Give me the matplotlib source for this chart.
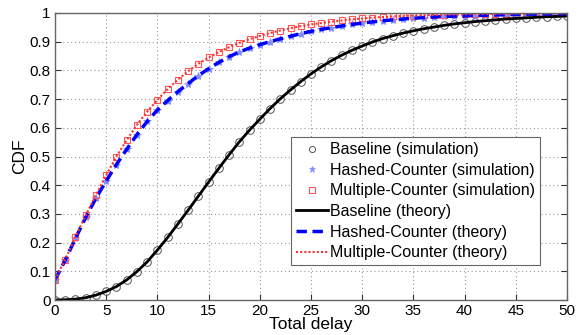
import matplotlib
matplotlib.use("Agg")
import matplotlib.pyplot as plt
import numpy as np

delay = list(range(0, 51))

baseline = [0.0, 0.001, 0.003, 0.008, 0.017, 0.030, 0.047, 0.070, 0.099, 0.133,
            0.174, 0.218, 0.265, 0.313, 0.362, 0.411, 0.459, 0.506, 0.551, 0.592,
            0.630, 0.667, 0.701, 0.732, 0.761, 0.788, 0.812, 0.834, 0.853, 0.870,
            0.885, 0.899, 0.911, 0.921, 0.930, 0.938, 0.945, 0.951, 0.957, 0.962,
            0.966, 0.970, 0.973, 0.976, 0.979, 0.981, 0.983, 0.985, 0.987, 0.988,
            0.990]

hashed = [0.070, 0.139, 0.215, 0.288, 0.355, 0.415, 0.472, 0.525, 0.576, 0.622,
          0.662, 0.695, 0.726, 0.754, 0.782, 0.806, 0.828, 0.848, 0.864, 0.878,
          0.890, 0.900, 0.910, 0.919, 0.928, 0.936, 0.943, 0.949, 0.955, 0.960,
          0.965, 0.969, 0.973, 0.976, 0.979, 0.982, 0.984, 0.986, 0.988, 0.989,
          0.990, 0.991, 0.992, 0.993, 0.994, 0.995, 0.996, 0.996, 0.997, 0.997,
          0.998]

multiple = [0.070, 0.141, 0.220, 0.295, 0.366, 0.435, 0.500, 0.557, 0.610, 0.656,
            0.697, 0.735, 0.768, 0.797, 0.823, 0.845, 0.864, 0.881, 0.896, 0.909,
            0.920, 0.930, 0.939, 0.947, 0.954, 0.960, 0.965, 0.970, 0.974, 0.978,
            0.981, 0.984, 0.986, 0.988, 0.990, 0.991, 0.992, 0.993, 0.994, 0.995,
            0.996, 0.996, 0.997, 0.997, 0.998, 0.998, 0.998, 0.999, 0.999, 0.999,
            0.999]

xticks = list(range(0, 51, 5))
yticks = [0, 0.1, 0.2, 0.3, 0.4, 0.5, 0.6, 0.7, 0.8, 0.9, 1]
ytick_labels = ["0", "0.1", "0.2", "0.3", "0.4", "0.5", "0.6", "0.7", "0.8", "0.9", "1"]

plt.rcParams['font.family'] = ['Liberation Sans', 'DejaVu Sans']

fig = plt.figure(figsize=(5.79, 3.35), dpi=100)
ax = fig.add_axes([55/579, 35/335, 512/579, 287/335])

h1, = ax.plot(delay, baseline, linestyle='none', marker='o', markersize=5.5,
              markerfacecolor='none', markeredgecolor='#555555', markeredgewidth=0.7,
              label='Baseline (simulation)')
h2, = ax.plot(delay, hashed, linestyle='none', marker='*', markersize=6,
              color='#7f8cff', markeredgewidth=0.5, label='Hashed-Counter (simulation)')
h3, = ax.plot(delay, multiple, linestyle='none', marker='s', markersize=5,
              markerfacecolor='none', markeredgecolor='#ff5555', markeredgewidth=0.8,
              label='Multiple-Counter (simulation)')
h4, = ax.plot(delay, baseline, color='black', linewidth=2, label='Baseline (theory)')
h5, = ax.plot(delay, hashed, color='#0000ff', linewidth=2.5, linestyle=(0, (3, 1.6)),
              label='Hashed-Counter (theory)')
h6, = ax.plot(delay, multiple, color='#ff3030', linewidth=1.5, linestyle=(0, (1, 1)),
              label='Multiple-Counter (theory)')

ax.set_xlim(0, 50)
ax.set_ylim(0, 1)
ax.set_xticks(xticks)
ax.set_yticks(yticks)
ax.set_yticklabels(ytick_labels)
ax.tick_params(direction='in', length=4, width=0.8, colors='#333333',
               labelsize=11, labelcolor='black', top=False, right=True, pad=3)
for s in ax.spines.values():
    s.set_color('#666666')
    s.set_linewidth(1)
ax.grid(True, linestyle=(0, (1, 2.5)), color='#999999', linewidth=0.8)
ax.set_axisbelow(True)

ax.set_xlabel('Total delay', fontsize=12.5, labelpad=-1)
ax.set_ylabel('CDF', fontsize=12.5, labelpad=2)

leg = ax.legend(handles=[h1, h2, h3, h4, h5, h6], loc='lower right',
                bbox_to_anchor=(0.947, 0.122), fontsize=11.5, markerscale=0.8,
                frameon=True, fancybox=False, edgecolor='#666666', framealpha=1,
                handlelength=2.0, handletextpad=0.15, labelspacing=0.35,
                borderpad=0.3, borderaxespad=0)
leg.get_frame().set_linewidth(0.8)

fig.savefig('out.png', dpi=100)
